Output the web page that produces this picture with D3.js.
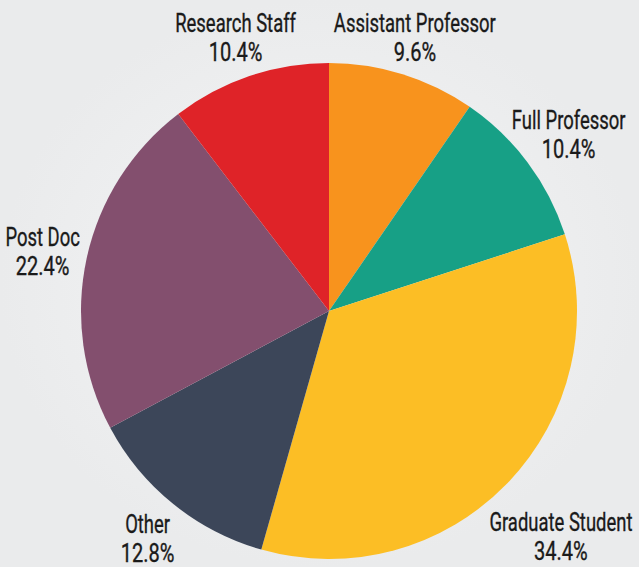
<!DOCTYPE html>
<html>
<head>
<meta charset="utf-8">
<script src="https://cdn.jsdelivr.net/npm/d3@7"></script>
<style>
  html, body { margin: 0; padding: 0; background: #eff0f1; }
  svg { display: block; }
  .lbl { font-family: Roboto, "Noto Sans", sans-serif; font-size: 26px; fill: #1a1a1a; stroke: #1a1a1a; stroke-width: 0.35px; }
</style>
</head>
<body>
<div id="chart"></div>
<script>
onload = function () {

  var width = 639;
  var height = 567;
  var cx = 329, cy = 311, radius = 248;
  // the original uses a condensed face
  var squeezeName = 0.71;
  var squeezeValue = 0.77;

  // shares of respondents, clockwise from 12 o'clock
  var categories = ["Assistant Professor", "Full Professor", "Graduate Student", "Other", "Post Doc", "Research Staff"];
  var values = [9.6, 10.4, 34.4, 12.8, 22.4, 10.4];
  var colors = ["#f8931d", "#17a086", "#fcbe25", "#3c4659", "#834f6e", "#df2328"];

  var format = function (v) { return d3.format(".1f")(v) + "%"; };

  var data = categories.map(function (c, i) {
    return {name: c, value: values[i]};
  });

  var color = d3.scaleOrdinal()
    .domain(categories)
    .range(colors);

  var pie = d3.pie()
    .sort(null)
    .value(function (d) { return d.value; });

  var arc = d3.arc()
    .innerRadius(0)
    .outerRadius(radius);

  var svg = d3.select("#chart").append("svg")
    .attr("width", width)
    .attr("height", height);

  var defs = svg.append("defs");
  var bg = defs.append("radialGradient").attr("id", "bg");
  bg.append("stop").attr("offset", "0%").attr("stop-color", "#f5f6f7");
  bg.append("stop").attr("offset", "100%").attr("stop-color", "#eaebec");

  svg.append("rect")
    .attr("width", width)
    .attr("height", height)
    .attr("fill", "url(#bg)");

  var g = svg.append("g")
    .attr("transform", "translate(" + cx + "," + cy + ")");

  var arcs = pie(data);

  g.selectAll("path")
    .data(arcs)
    .enter().append("path")
    .attr("d", arc)
    .attr("fill", function (d) { return color(d.data.name); });

  // labels: push outward along the slice's middle angle until clear of the pie
  var gap = 8;
  arcs.forEach(function (d) {
    var a = (d.startAngle + d.endAngle) / 2;
    var lg = g.append("g");
    var lines = [
      {text: d.data.name, dy: 0, k: squeezeName},
      {text: format(d.data.value), dy: 29, k: squeezeValue}
    ];
    lines.forEach(function (l) {
      l.node = lg.append("text")
        .attr("class", "lbl")
        .attr("text-anchor", "middle")
        .attr("transform", "translate(0," + l.dy + ") scale(" + l.k + ",1)")
        .text(l.text);
    });

    var r = radius;
    function pos() {
      return [r * Math.sin(a), -r * Math.cos(a) - 3];
    }
    function clear() {
      var p = pos();
      return lines.every(function (l) {
        var b = l.node.node().getBBox();
        var x0 = b.x * l.k + p[0], x1 = (b.x + b.width) * l.k + p[0];
        var y0 = b.y + l.dy + p[1] + 4, y1 = b.y + b.height + l.dy + p[1] - 5;
        var nx = Math.max(x0, Math.min(0, x1));
        var ny = Math.max(y0, Math.min(0, y1));
        return Math.sqrt(nx * nx + ny * ny) >= radius + gap;
      });
    }
    while (!clear() && r < 400) r += 1;
    var p = pos();
    lg.attr("transform", "translate(" + p[0] + "," + p[1] + ")");
  });

}
</script>
</body>
</html>
